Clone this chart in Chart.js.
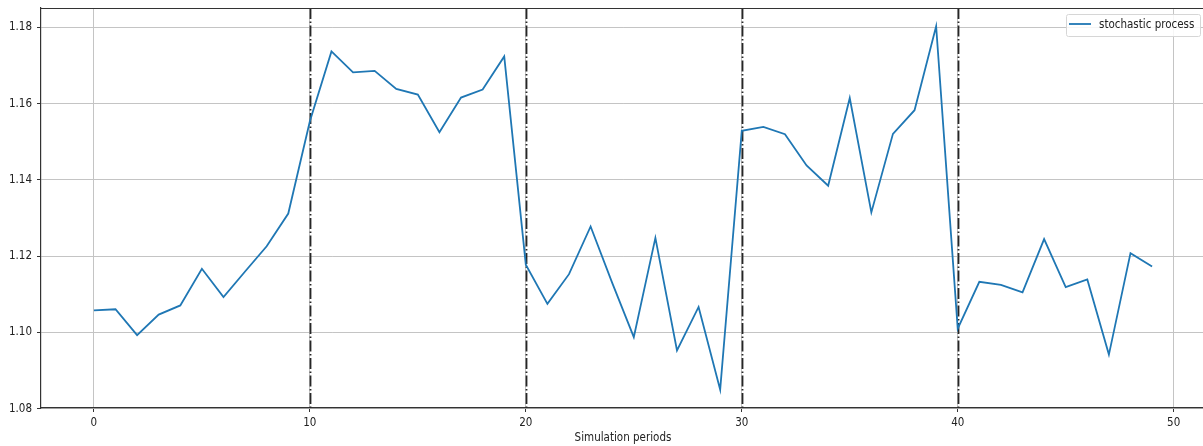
<!DOCTYPE html>
<html>
<head>
<meta charset="utf-8">
<script src="https://cdn.jsdelivr.net/npm/chart.js@4/dist/chart.umd.min.js"></script>
<style>
  html, body { margin: 0; padding: 0; background: #fff; overflow: hidden; }
  #wrap { width: 1203px; height: 446px; overflow: hidden; }
  canvas { display: block; }
</style>
</head>
<body>
<div id="wrap"><canvas id="c" width="1206" height="446"></canvas></div>
<script>
// Simulation periods and the simulated values of the process
const periods = [0,1,2,3,4,5,6,7,8,9,10,11,12,13,14,15,16,17,18,19,20,21,22,23,24,25,26,27,28,29,30,31,32,33,34,35,36,37,38,39,40,41,42,43,44,45,46,47,48,49];
const processValues = [
  1.1058, 1.1061, 1.0993, 1.1047, 1.1071, 1.1167, 1.1093, 1.1160, 1.1226, 1.1312,
  1.1554, 1.1737, 1.1682, 1.1686, 1.1639, 1.1624, 1.1525, 1.1616, 1.1637, 1.1724,
  1.1178, 1.1075, 1.1153, 1.1278, 1.1130, 1.0988, 1.1248, 1.0953, 1.1067, 1.0850,
  1.1529, 1.1539, 1.1520, 1.1438, 1.1385, 1.1615, 1.1315, 1.1521, 1.1583, 1.1803,
  1.1010, 1.1133, 1.1125, 1.1105, 1.1245, 1.1119, 1.1139, 1.0942, 1.1208, 1.1173
];
// Periods where the regime switches
const regimeBreaks = [10, 20, 30, 40];
// Axis ticks
const xTickValues = [0, 10, 20, 30, 40, 50];
const yTickValues = [1.08, 1.10, 1.12, 1.14, 1.16, 1.18];

const seriesLabel = 'stochastic process';
const lineColor = '#1f77b4';
const tickFont = { family: "'DejaVu Sans Condensed', 'DejaVu Sans', sans-serif", size: 11.5 };

// Dash-dot vertical lines at the regime breaks (under the series) and the top/right frame
const breaksPlugin = {
  id: 'breaks',
  beforeDatasetsDraw(chart) {
    const { ctx, chartArea: a, scales: { x } } = chart;
    ctx.save();
    ctx.strokeStyle = '#262626';
    ctx.lineWidth = 1.8;
    ctx.setLineDash([11, 2.5, 1.5, 2.5]);
    regimeBreaks.forEach(v => {
      const px = Math.round(x.getPixelForValue(v)) + 0.5;
      ctx.beginPath();
      ctx.moveTo(px, a.top);
      ctx.lineTo(px, a.bottom);
      ctx.stroke();
    });
    ctx.restore();
  },
  afterDatasetsDraw(chart) {
    const { ctx, chartArea: a } = chart;
    ctx.save();
    ctx.strokeStyle = '#333';
    ctx.lineWidth = 1.2;
    ctx.beginPath();
    ctx.moveTo(a.left, a.top + 0.5);
    ctx.lineTo(a.right, a.top + 0.5);
    ctx.moveTo(a.right - 0.5, a.top);
    ctx.lineTo(a.right - 0.5, a.bottom);
    ctx.stroke();
    ctx.restore();
  }
};

// Legend box in the upper right corner of the plot area
const legendPlugin = {
  id: 'innerLegend',
  afterDraw(chart) {
    const { ctx, chartArea: a } = chart;
    const ds = chart.data.datasets[0];
    const w = 134, h = 22;
    const bx = a.right - 5 - w, by = a.top + 6;
    ctx.save();
    ctx.fillStyle = 'rgba(255,255,255,0.85)';
    ctx.strokeStyle = '#d6d6d6';
    ctx.lineWidth = 1;
    ctx.beginPath();
    ctx.roundRect(bx + 0.5, by + 0.5, w, h, 2);
    ctx.fill();
    ctx.stroke();
    ctx.strokeStyle = ds.borderColor;
    ctx.lineWidth = 1.8;
    ctx.beginPath();
    ctx.moveTo(bx + 3, by + 10);
    ctx.lineTo(bx + 25, by + 10);
    ctx.stroke();
    ctx.fillStyle = '#222';
    ctx.font = `${tickFont.size}px ${tickFont.family}`;
    ctx.textBaseline = 'middle';
    ctx.fillText(ds.label, bx + 33, by + 11);
    ctx.restore();
  }
};

new Chart(document.getElementById('c'), {
  type: 'line',
  data: {
    datasets: [{
      label: seriesLabel,
      data: periods.map((p, i) => ({ x: p, y: processValues[i] })),
      borderColor: lineColor,
      backgroundColor: lineColor,
      borderWidth: 1.8,
      pointRadius: 0,
      tension: 0,
      fill: false
    }]
  },
  options: {
    responsive: false,
    animation: false,
    devicePixelRatio: 1,
    layout: { padding: { top: 8, right: 1, left: 0, bottom: 0 } },
    plugins: {
      legend: { display: false },
      tooltip: { enabled: false }
    },
    scales: {
      x: {
        type: 'linear',
        min: -2.45,
        max: 51.45,
        afterFit(s) { s.height = 38; s.paddingLeft = 0; s.paddingRight = 0; },
        afterBuildTicks(s) { s.ticks = xTickValues.map(v => ({ value: v })); },
        grid: { color: '#c4c4c4', lineWidth: 1, tickColor: '#333', tickLength: 4 },
        border: { color: '#333', width: 1.2 },
        ticks: { font: tickFont, color: '#222', padding: 4, maxRotation: 0,
                 callback: v => String(v) },
        title: { display: true, text: 'Simulation periods', font: tickFont, color: '#222',
                 padding: { top: 0, bottom: 1 } }
      },
      y: {
        type: 'linear',
        min: 1.0802,
        max: 1.1851,
        afterFit(s) { s.width = 41; s.paddingTop = 0; s.paddingBottom = 0; },
        afterBuildTicks(s) { s.ticks = yTickValues.map(v => ({ value: v })); },
        grid: { color: '#c4c4c4', lineWidth: 1, tickColor: '#333', tickLength: 4 },
        border: { color: '#333', width: 1.2 },
        ticks: { font: tickFont, color: '#222', padding: 5,
                 callback: v => Number(v).toFixed(2) }
      }
    }
  },
  plugins: [breaksPlugin, legendPlugin]
});
</script>
</body>
</html>
